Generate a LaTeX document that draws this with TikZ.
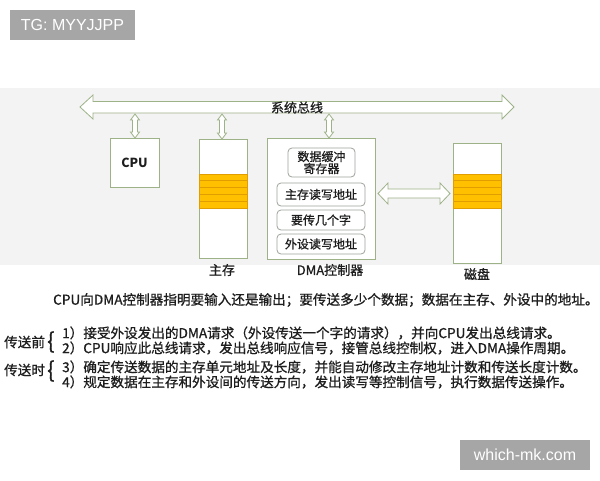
\documentclass[tikz,border=0pt]{standalone}
\usepackage{fontspec}
\setmainfont{Noto Sans CJK SC}
\newfontfamily\medfont{Noto Sans CJK SC}[FakeBold=0.9]
\newfontfamily\wmfont{Liberation Sans}
\definecolor{bandgray}{HTML}{F3F3F3}
\definecolor{boxgreen}{HTML}{9DB287}
\definecolor{innergray}{HTML}{9EA39A}
\definecolor{stripeorange}{HTML}{FFC000}
\definecolor{stripeline}{HTML}{E09E00}
\definecolor{wmgray}{HTML}{A6A6A6}
\definecolor{txt}{HTML}{1E1E1E}
\newcommand{\vdarr}[3]{%
  \draw[blockarrow] (#1,#2) -- (#1+4.5,#2+6) -- (#1+2.5,#2+6) -- (#1+2.5,#3-6) -- (#1+4.5,#3-6) -- (#1,#3) -- (#1-4.5,#3-6) -- (#1-2.5,#3-6) -- (#1-2.5,#2+6) -- (#1-4.5,#2+6) -- cycle;}
\newcommand{\stripes}[3]{%
  \draw[stripe] (#1,#3) rectangle (#2,#3+34);
  \foreach \k in {1,...,4} {\draw[stripeline,line width=0.7pt] (#1,#3+6.8*\k) -- (#2,#3+6.8*\k);}}
\begin{document}
\begin{tikzpicture}[x=1pt,y=-1pt,
  greenbox/.style={draw=boxgreen,fill=white,line width=0.9pt,inner sep=0pt},
  innerbox/.style={draw=innergray,fill=white,rounded corners=4pt,line width=0.8pt,inner sep=0pt,font=\medfont\fontsize{12}{13}\selectfont,text=txt,align=center},
  blockarrow/.style={draw=boxgreen,fill=white,line width=0.8pt},
  stripe/.style={fill=stripeorange,draw=stripeline,line width=0.7pt},
  lbl/.style={font=\medfont\fontsize{13}{14}\selectfont,text=txt,inner sep=0pt},
  body/.style={font=\medfont\fontsize{13.6}{15}\selectfont,text=txt,inner sep=0pt,anchor=west},
  wm/.style={fill=wmgray,text=white,font=\wmfont\fontsize{16}{16}\selectfont,inner sep=0pt}]
\useasboundingbox (0,0) rectangle (600,480);
\fill[white] (0,0) rectangle (600,480);
\fill[bandgray] (0,88) rectangle (600,265);

% watermark boxes
\node[wm,minimum width=125,minimum height=30] (tg) at (72.5,25) {TG: MYYJJPP};
\node[wm,minimum width=130,minimum height=30] (wmk) at (525,455) {which-mk.com};

% system bus
\draw[blockarrow] (80,107) -- (93,95) -- (93,101.5) -- (502,101.5) -- (502,95) -- (514,107) -- (502,119) -- (502,113) -- (93,113) -- (93,119) -- cycle;
\node[lbl] (bus) at (297,107.5) {系统总线};

% CPU
\node[greenbox,minimum width=49,minimum height=49] (cpu) at (134.5,162.5) {};
\node[lbl,font=\fontsize{12.5}{13}\selectfont\bfseries] (cputxt) at (cpu.center) {CPU};

% main memory
\node[greenbox,minimum width=48,minimum height=119] (mem) at (223,198.5) {};
\stripes{199}{247}{174}
\node[lbl] (memlbl) at (222,270) {主存};

% DMA controller
\node[greenbox,minimum width=108,minimum height=121] (dma) at (321,198.5) {};
\node[innerbox,minimum width=67,minimum height=29] (buf) at (321.5,162.5) {数据缓冲\\[-1pt]寄存器};
\node[innerbox,minimum width=88,minimum height=23] (addr) at (321,194.5) {主存读写地址};
\node[innerbox,minimum width=88,minimum height=20] (cnt) at (321,220) {要传几个字};
\node[innerbox,minimum width=88,minimum height=20] (dev) at (321,244) {外设读写地址};
\node[lbl] (dmalbl) at (330,270) {DMA控制器};

% disk
\node[greenbox,minimum width=48,minimum height=120] (disk) at (477,203) {};
\stripes{453}{501}{174}
\node[lbl] (disklbl) at (477,274) {磁盘};

% small bus arrows
\vdarr{135}{114}{138}
\vdarr{222}{114}{139}
\vdarr{329}{114}{138}

% DMA <-> disk
\draw[blockarrow] (378,193.5) -- (388,183) -- (388,189) -- (440,189) -- (440,183) -- (450,193.5) -- (440,204) -- (440,198) -- (388,198) -- (388,204) -- cycle;

% text
\node[body] (t0) at (53,300) {CPU向DMA控制器指明要输入还是输出；要传送多少个数据；数据在主存、外设中的地址。};
\node[body] (pre) at (4,342) {传送前};
\node[body] (during) at (4,370) {传送时};
\node[body,font=\medfont\fontsize{22}{22}\selectfont] (b1) at (47,342) {\{};
\node[body,font=\medfont\fontsize{22}{22}\selectfont] (b2) at (47,371) {\{};
\node[body] (l1) at (62,333) {1）接受外设发出的DMA请求（外设传送一个字的请求），并向CPU发出总线请求。};
\node[body] (l2) at (62,348) {2）CPU响应此总线请求，发出总线响应信号，接管总线控制权，进入DMA操作周期。};
\node[body] (l3) at (62,367) {3）确定传送数据的主存单元地址及长度，并能自动修改主存地址计数和传送长度计数。};
\node[body] (l4) at (62,382) {4）规定数据在主存和外设间的传送方向，发出读写等控制信号，执行数据传送操作。};
\end{tikzpicture}
\end{document}
